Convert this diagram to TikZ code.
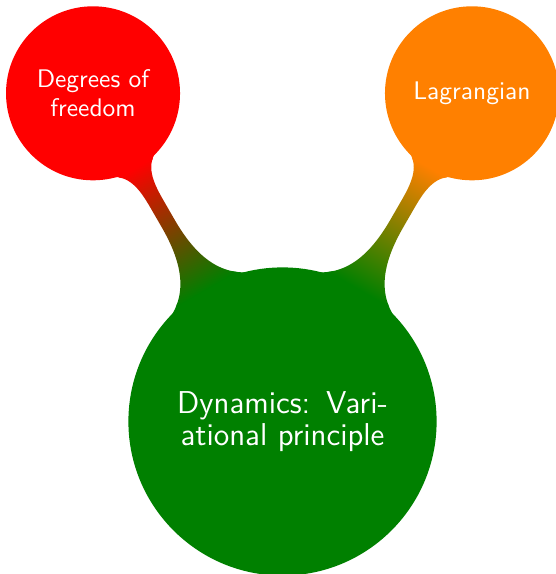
\documentclass[tikz,border=0pt]{standalone}
\usetikzlibrary{mindmap}

\begin{document}
\begin{tikzpicture}[mindmap, text=white,
  rootconcept/.style={concept, concept color=green!50!black, minimum size=4cm,
    text width=3.7cm, align=center, font=\sffamily\fontsize{11.8}{11.8}\selectfont},
  leafconcept/.style={concept, minimum size=2.24cm, text width=1.95cm,
    align=center, font=\sffamily\fontsize{9.5}{10.8}\selectfont}]
  \useasboundingbox (-3.705,-2.0) rectangle (3.574,5.528);
  % Root: the variational principle
  \node[rootconcept] (dyn) at (0,0) {Dynamics: Vari-\\ational principle};
  % Level 1 concepts at 120 and 60 degrees
  \node[leafconcept, concept color=red] (dof) at (120:4.97) {Degrees of\\freedom};
  \node[leafconcept, concept color=orange] (lag) at (60:4.97) {Lagrangian};
  % Connection bars, colour switching from root to child
  \path (dyn) to[circle connection bar switch color=from (green!50!black) to (red)] (dof);
  \path (dyn) to[circle connection bar switch color=from (green!50!black) to (orange)] (lag);
\end{tikzpicture}
\end{document}
